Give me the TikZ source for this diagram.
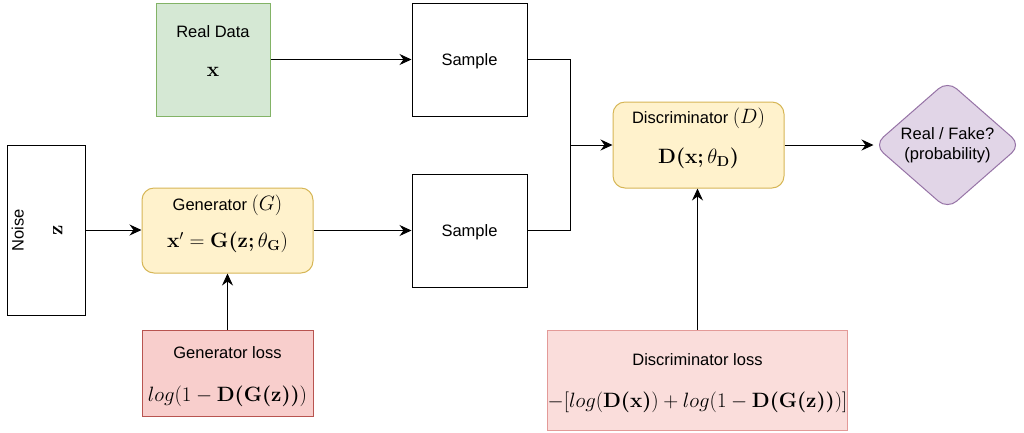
\documentclass[tikz,border=0pt]{standalone}
\usepackage[no-math]{fontspec}
\setmainfont{Liberation Sans}
\usetikzlibrary{arrows.meta,shapes.geometric}
\definecolor{greenF}{HTML}{D5E8D4}
\definecolor{greenD}{HTML}{82B366}
\definecolor{yelF}{HTML}{FFF2CC}
\definecolor{yelD}{HTML}{D6B656}
\definecolor{redF}{HTML}{F8CECC}
\definecolor{redD}{HTML}{B85450}
\definecolor{pinkF}{HTML}{FADDDB}
\definecolor{pinkD}{HTML}{E39A98}
\definecolor{purF}{HTML}{E1D5E7}
\definecolor{purD}{HTML}{9673A6}
\newcommand{\tsz}{\fontsize{16.5}{19.8}\selectfont}
\newcommand{\msz}{\fontsize{20}{24}\selectfont}
\newcommand{\bfc}[1]{\hbox{\usefont{OT1}{cmr}{bx}{n}#1}}
\newcommand{\bo}{\mathopen{\bfc{(}}}
\newcommand{\bc}{\mathclose{\bfc{)}}}
\newcommand{\bsc}{\mathpunct{\bfc{;}}}
% #1 title, #2 formula, #3 gap, #4 trailing space, #5 extra top space
\newcommand{\twolines}[5]{\begin{tabular}{@{}c@{}}\rule{0pt}{\dimexpr13.9pt+#5\relax}#1\\[#3]{\msz#2}\\[#4]\end{tabular}}
\tikzset{
  box/.style={draw, line width=1pt, inner sep=0pt, font=\tsz, align=center},
  rbox/.style={box, rounded corners=12pt},
  arr/.style={draw, line width=1pt, -{Stealth[length=12pt,width=11pt,inset=4pt]}},
  ln/.style={draw, line width=1pt}
}
\begin{document}
\begin{tikzpicture}[x=1pt,y=-1pt]
\useasboundingbox (0,0) rectangle (1024,432);
\node[box, fill=greenF, draw=greenD, minimum width=114pt, minimum height=113pt] (real) at (213,59.5)
  {\twolines{Real Data}{$\mathbf{x}$}{20pt}{13pt}{0pt}};
\node[box, text depth=0pt, minimum width=115pt, minimum height=113pt] (s1) at (469.5,59.5) {Sample};
\node[box, text depth=0pt, minimum width=115pt, minimum height=113pt] (s2) at (469.5,230.5) {Sample};
\node[box, minimum width=78pt, minimum height=170pt] (noise) at (46,230)
  {\rotatebox{90}{\twolines{Noise}{$\mathbf{z}$}{19pt}{14pt}{0pt}}};
\node[rbox, fill=yelF, draw=yelD, minimum width=171pt, minimum height=85pt] (gen) at (227.5,230.5)
  {\twolines{Generator {\msz$(G)$}}{$\mathbf{x}'=\mathbf{G}\bo\mathbf{z}\bsc\theta_{\mathbf{G}})$}{16pt}{13pt}{0pt}};
\node[box, fill=redF, draw=redD, minimum width=171pt, minimum height=86pt] (gloss) at (227.5,373)
  {\twolines{Generator loss}{$log(1-\mathbf{D}\bo\mathbf{G}\bo\mathbf{z}\bc\bc)$}{22pt}{0pt}{6pt}};
\node[rbox, fill=yelF, draw=yelD, minimum width=171pt, minimum height=86pt] (disc) at (698.5,145)
  {\twolines{Discriminator {\msz$(D)$}}{$\mathbf{D}\bo\mathbf{x}\bsc\theta_{\mathbf{D}}\bc$}{18pt}{13pt}{0pt}};
\node[box, fill=pinkF, draw=pinkD, minimum width=299pt, minimum height=100pt] (dloss) at (697.5,380)
  {\twolines{Discriminator loss}{$-[log(\mathbf{D}\bo\mathbf{x}\bc)+log(1-\mathbf{D}\bo\mathbf{G}\bo\mathbf{z}\bc\bc)]$}{20pt}{0pt}{5pt}};
\node[box, diamond, rounded corners=12pt, fill=purF, draw=purD, minimum width=147pt, minimum height=120pt] (dia) at (947.5,145)
  {Real / Fake?\\(probability)};
\coordinate (j) at (570,145);
\draw[arr] (real.east) -- (s1.west);
\draw[arr] (noise.east) -- (noise.east -| gen.west);
\draw[arr] (gen.east) -- (gen.east -| s2.west);
\draw[ln] (s1.east) -| (j);
\draw[ln] (s2.east) -| (j);
\draw[arr] (j) -- (disc.west);
\draw[arr] (disc.east) -- (dia.west);
\draw[arr] (gloss.north) -- (gen.south);
\draw[arr] (dloss.north) -- (dloss.north |- disc.south);
\end{tikzpicture}
\end{document}
